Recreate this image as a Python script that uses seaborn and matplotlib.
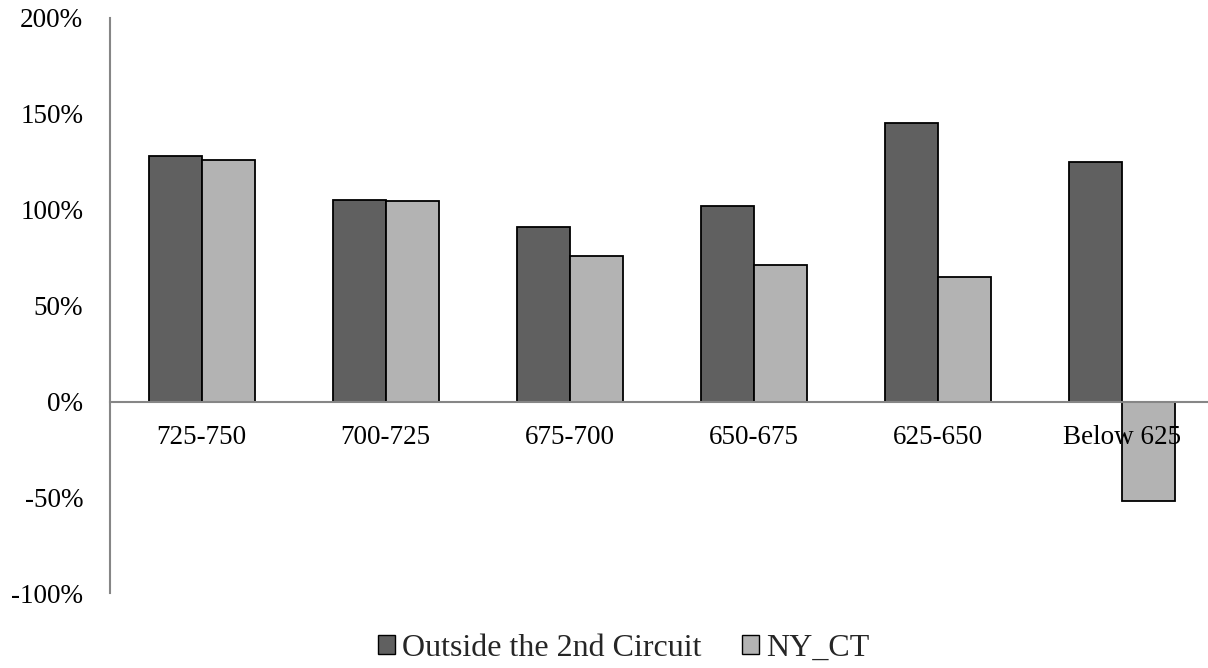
import matplotlib
matplotlib.use("Agg")
import matplotlib.pyplot as plt
import seaborn as sns
import pandas as pd
from matplotlib.ticker import FuncFormatter

categories = ["725-750", "700-725", "675-700", "650-675", "625-650", "Below 625"]
series_names = ["Outside the 2nd Circuit", "NY_CT"]
outside_vals = [128, 105, 91, 102, 145, 125]
nyct_vals = [126, 104.5, 76, 71, 65, -52]
y_ticks = [-100, -50, 0, 50, 100, 150, 200]

df = pd.DataFrame({
    "category": categories * 2,
    "series": [series_names[0]] * len(categories) + [series_names[1]] * len(categories),
    "value": outside_vals + nyct_vals,
})

sns.set_theme(style="white")
plt.rcParams["font.family"] = ["Liberation Serif", "DejaVu Serif"]

fig = plt.figure(figsize=(12.08, 6.68), dpi=100)
ax = fig.add_axes([0.0908, 0.1118, 0.9139, 0.8613])

sns.barplot(data=df, x="category", y="value", hue="series", order=categories,
            hue_order=series_names, palette=["#606060", "#b3b3b3"],
            width=0.576, edgecolor="black", linewidth=1.3, errorbar=None, ax=ax,
            legend=True)

ax.set_axisbelow(False)
ax.set_ylim(-100, 200)
ax.set_xlim(-0.5, 5.5)
ax.set_yticks(y_ticks)
ax.yaxis.set_major_formatter(FuncFormatter(lambda v, p: f"{int(v)}%"))
ax.set_xlabel("")
ax.set_ylabel("")

for s in ["top", "right"]:
    ax.spines[s].set_visible(False)
ax.spines["bottom"].set_position(("data", 0))
ax.spines["bottom"].set_color("#868686")
ax.spines["bottom"].set_linewidth(1.5)
ax.spines["left"].set_color("#868686")
ax.spines["left"].set_linewidth(1.5)

ax.tick_params(axis="y", length=0, pad=19, labelsize=19.5, labelcolor="black")
ax.tick_params(axis="x", length=0, pad=17, labelsize=19.5, labelcolor="black")

handles, labels = ax.get_legend_handles_labels()
for h in handles:
    h.set_linewidth(1.0)
ax.get_legend().remove()
fig.legend(handles, labels, loc="center left", bbox_to_anchor=(0.3129, 0.029), ncol=2,
           frameon=False, fontsize=23, handlelength=0.53, handleheight=0.53,
           handletextpad=0.22, columnspacing=1.28, borderpad=0, borderaxespad=0)

fig.savefig("out.png", dpi=100)
